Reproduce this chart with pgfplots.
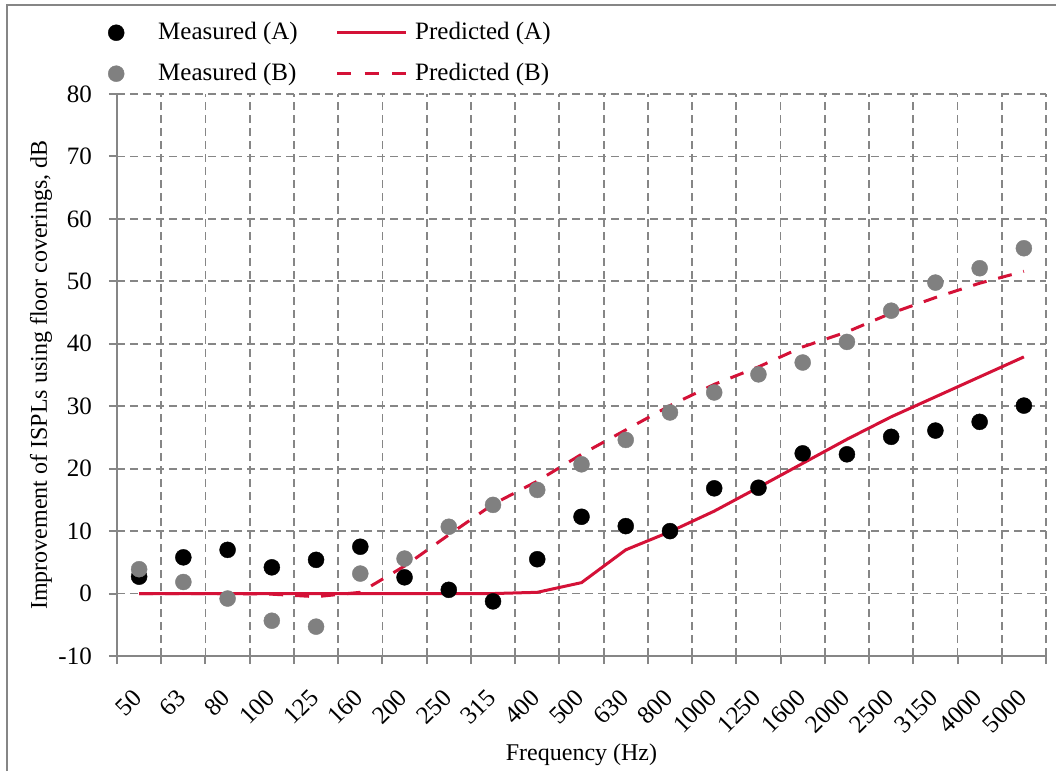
\documentclass[border=0pt]{standalone}
\usepackage{fontspec}
\setmainfont{Liberation Serif}
\usepackage{pgfplots}
\pgfplotsset{compat=1.18}
\definecolor{predred}{RGB}{212,17,55}
\definecolor{gridgray}{RGB}{134,134,134}
\definecolor{measgray}{RGB}{128,128,128}
\pgfplotsset{
 leglinestyle/.style={legend image code/.code={\draw[##1] (0pt,0pt) -- (69pt,0pt);}},
 legmarkstyle/.style={legend image code/.code={\path[draw=none,fill=none] (0pt,0pt) (69pt,0pt);\draw[##1] plot coordinates {(34.5pt,0pt)};}},
}
\begin{document}
\fontsize{24}{29}\selectfont
\begin{tikzpicture}
\begin{axis}[
 at={(0pt,0pt)}, anchor=south west, scale only axis,
 width=929pt, height=562pt,
 xmin=-0.5, xmax=20.5, ymin=-10, ymax=80,
 axis x line*=bottom, axis y line*=left,
 axis line style={gridgray, line width=2.5pt, -},
 xtick={-0.5,0.5,...,20.5},
 xticklabels={},
 extra x ticks={0,...,20},
 extra x tick labels={50,63,80,100,125,160,200,250,315,400,500,630,800,1000,1250,1600,2000,2500,3150,4000,5000},
 extra x tick style={xmajorgrids=false, major tick length=0pt,
   xticklabel style={xshift=-1.5pt, yshift=-37.5pt, rotate=45, anchor=east, inner sep=0pt}},
 ytick={-10,0,...,80},
 xmajorgrids=true, ymajorgrids=true,
 grid style={gridgray, line width=1.8pt, dash pattern=on 8pt off 5pt},
 tick align=outside,
 major tick length=8pt,
 tick style={gridgray, line width=2pt},
 /pgf/number format/assume math mode=true,
 tick label style={font=\fontsize{25}{30}\selectfont, text=black},
 yticklabel style={xshift=-9pt},
 xlabel={Frequency (Hz)},
 ylabel={Improvement of ISPLs using floor coverings, dB},
 label style={font=\fontsize{24}{29}\selectfont},
 every axis x label/.style={at={(axis description cs:0.5,-0.176)}, anchor=center},
 every axis y label/.style={at={(axis description cs:-0.0818,0.5)}, rotate=90, anchor=center},
 legend columns=2,
 legend cell align=left,
 legend style={at={(axis description cs:-0.0382,1.128)}, anchor=north west, draw=none, fill=none, inner sep=0pt,
   nodes={inner sep=0pt},
   font=\fontsize{25}{30}\selectfont, row sep=20pt,
   /tikz/every odd column/.append style={column sep=7.5pt},
   /tikz/every even column/.append style={column sep=38pt}},
 clip=false,
]
\addlegendimage{only marks, mark=*, mark size=8pt, color=black, legmarkstyle}
\addlegendentry{Measured (A)}
\addlegendimage{predred, line width=3pt, leglinestyle}
\addlegendentry{Predicted (A)}
\addlegendimage{only marks, mark=*, mark size=8pt, color=measgray, legmarkstyle}
\addlegendentry{Measured (B)}
\addlegendimage{predred, line width=3pt, dash pattern=on 14pt off 13.5pt, leglinestyle}
\addlegendentry{Predicted (B)}

% Predicted (A)
\addplot[predred, line width=3pt, forget plot] coordinates {
(0,0) (1,0) (2,0) (3,0) (4,0) (5,0) (6,0) (7,0) (8,0) (9,0.2)
(10,1.75) (11,7.0) (12,9.9) (13,13.2) (14,17.0) (15,20.85) (16,24.7)
(17,28.3) (18,31.5) (19,34.7) (20,37.9)};
% Predicted (B)
\addplot[predred, line width=3pt, dash pattern=on 14pt off 12pt, forget plot] coordinates {
(0,0) (1,0) (2,0) (3,-0.1) (4,-0.5) (5,0.2) (6,4.4) (7,9.4) (8,14.3) (9,18.0)
(10,22.3) (11,26.2) (12,30.1) (13,33.5) (14,36.3) (15,39.5) (16,41.9)
(17,44.9) (18,47.4) (19,49.7) (20,51.6)};
% Measured (A)
\addplot[only marks, mark=*, mark size=8pt, color=black, forget plot] coordinates {
(0,2.7) (1,5.8) (2,7.0) (3,4.2) (4,5.4) (5,7.5) (6,2.6) (7,0.6) (8,-1.25) (9,5.5)
(10,12.3) (11,10.8) (12,10.0) (13,16.85) (14,16.95) (15,22.45) (16,22.3)
(17,25.1) (18,26.1) (19,27.5) (20,30.1)};
% Measured (B)
\addplot[only marks, mark=*, mark size=8pt, color=measgray, forget plot] coordinates {
(0,3.9) (1,1.85) (2,-0.8) (3,-4.35) (4,-5.3) (5,3.2) (6,5.6) (7,10.7) (8,14.2) (9,16.6)
(10,20.7) (11,24.6) (12,29.0) (13,32.2) (14,35.1) (15,37.0) (16,40.3)
(17,45.3) (18,49.8) (19,52.1) (20,55.3)};
\end{axis}
\pgfresetboundingbox
\path[use as bounding box] (-117pt,-115pt) rectangle (939pt,656pt);
\draw[gridgray,line width=2pt] (-110pt,-115pt) -- (-110pt,651pt) -- (939pt,651pt);
\end{tikzpicture}
\end{document}
